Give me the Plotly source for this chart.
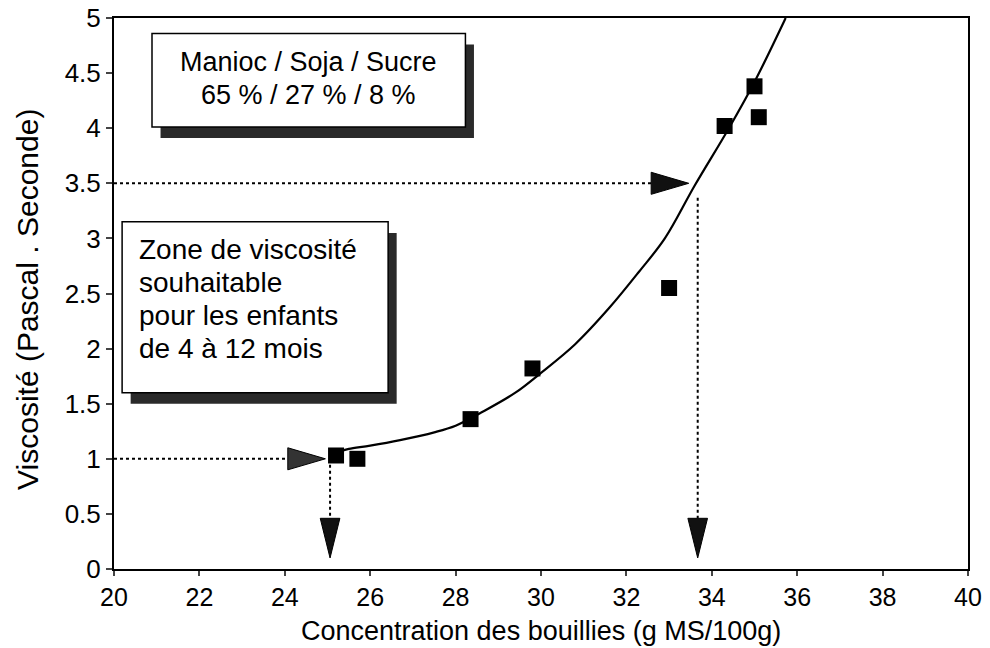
import plotly.graph_objects as go

# Measured points
conc_points = [25.2, 25.7, 28.35, 29.8, 33.0, 34.3, 35.0, 35.1]
visc_points = [1.03, 1.0, 1.36, 1.82, 2.55, 4.02, 4.38, 4.1]

# Fitted curve
conc_curve = [25.3, 25.5, 26.0, 26.7, 27.5, 28.0, 28.6, 29.4, 30.0, 30.8, 31.6, 32.3, 32.9, 33.6, 34.4, 35.0, 35.73]
visc_curve = [1.07, 1.09, 1.12, 1.17, 1.24, 1.30, 1.42, 1.60, 1.78, 2.04, 2.37, 2.70, 3.0, 3.48, 4.0, 4.42, 5.0]

# Target zone reading arrows
target_visc = [1.0, 3.5]
target_conc = [25.06, 33.67]
horiz_tip = [24.95, 33.46]

x_ticks = [20, 22, 24, 26, 28, 30, 32, 34, 36, 38, 40]
y_ticks = [0, 0.5, 1, 1.5, 2, 2.5, 3, 3.5, 4, 4.5, 5]
y_tick_text = ["0", "0.5", "1", "1.5", "2", "2.5", "3", "3.5", "4", "4.5", "5"]

box1_lines = ["Manioc / Soja / Sucre", "65 % / 27 % / 8 %"]
box2_lines = ["Zone de viscosité", "souhaitable", "pour les enfants", "de 4 à 12 mois"]

FONT = "Liberation Sans, Arial, Helvetica, sans-serif"

fig = go.Figure()
fig.add_trace(go.Scatter(x=conc_curve, y=visc_curve, mode="lines",
                         line=dict(color="black", width=2.2, shape="spline"),
                         showlegend=False, hoverinfo="skip"))
fig.add_trace(go.Scatter(x=conc_points, y=visc_points, mode="markers",
                         marker=dict(symbol="square", size=16, color="black"),
                         showlegend=False))

shapes = []
h_len = 0.88
h_half = 0.10
v_len = 0.36
v_half = 0.23
v_tip = 0.10
for i, (yv, xv, xt) in enumerate(zip(target_visc, target_conc, horiz_tip)):
    base = xt - h_len
    shapes.append(dict(type="line", x0=20, x1=base, y0=yv, y1=yv,
                       line=dict(color="black", width=2, dash="dot")))
    shapes.append(dict(type="path",
                       path=f"M {base},{yv - h_half} L {xt},{yv} L {base},{yv + h_half} Z",
                       fillcolor="#111" if i else "#333", line=dict(color="black", width=1)))
    ystart = yv if i == 0 else yv - 0.13
    shapes.append(dict(type="line", x0=xv, x1=xv, y0=ystart, y1=v_tip + v_len,
                       line=dict(color="black", width=2, dash="dot")))
    shapes.append(dict(type="path",
                       path=f"M {xv - v_half},{v_tip + v_len} L {xv},{v_tip} L {xv + v_half},{v_tip + v_len} Z",
                       fillcolor="#111", line=dict(color="black", width=1)))

boxes = [
    dict(x0=20.89, x1=28.23, y0=4.01, y1=4.86),
    dict(x0=20.19, x1=26.42, y0=1.60, y1=3.15),
]
for b in boxes:
    dx, dy = 0.2, 0.1
    shapes.append(dict(type="rect", x0=b["x0"] + dx, x1=b["x1"] + dx,
                       y0=b["y0"] - dy, y1=b["y1"] - dy,
                       fillcolor="#2a2a2a", line=dict(width=0), layer="above"))
    shapes.append(dict(type="rect", x0=b["x0"], x1=b["x1"], y0=b["y0"], y1=b["y1"],
                       fillcolor="white", line=dict(color="black", width=1.5), layer="above"))

annotations = []
for k, line in enumerate(box1_lines):
    annotations.append(dict(x=(boxes[0]["x0"] + boxes[0]["x1"]) / 2, y=4.60 - 0.30 * k,
                            text=line, showarrow=False, yanchor="middle",
                            font=dict(family=FONT, size=27, color="black")))
for k, line in enumerate(box2_lines):
    annotations.append(dict(x=boxes[1]["x0"] + 0.35, y=2.90 - 0.30 * k, xanchor="left",
                            yanchor="middle", text=line, showarrow=False,
                            font=dict(family=FONT, size=28, color="black")))
annotations += [
    dict(xref="paper", yref="paper", x=0.5, y=-0.113, yanchor="middle",
         text="Concentration des bouillies (g MS/100g)", showarrow=False,
         font=dict(family=FONT, size=27, color="black")),
    dict(xref="paper", yref="paper", x=-0.102, y=0.49, xanchor="center", yanchor="middle",
         textangle=-90, text="Viscosité (Pascal . Seconde)", showarrow=False,
         font=dict(family=FONT, size=30, color="black")),
]

fig.update_layout(
    width=990, height=648,
    margin=dict(l=114, r=22, t=18, b=79),
    paper_bgcolor="white", plot_bgcolor="white",
    font=dict(family=FONT, size=26, color="black"),
    shapes=shapes, annotations=annotations,
    xaxis=dict(range=[20, 40], tickvals=x_ticks, ticks="outside", ticklen=5, tickwidth=2,
               showline=True, linecolor="black", linewidth=2, mirror=True,
               showgrid=False, zeroline=False, automargin=False,
               ticklabeloverflow="allow", tickfont=dict(size=25)),
    yaxis=dict(range=[0, 5], tickvals=y_ticks, ticktext=y_tick_text, ticks="outside",
               ticklen=6, tickwidth=2,
               showline=True, linecolor="black", linewidth=2, mirror=True,
               showgrid=False, zeroline=False, automargin=False,
               ticklabeloverflow="allow", tickfont=dict(size=26)),
)

fig.write_html("out.html", config={"displayModeBar": False},
               post_script="document.body.style.margin='0';document.body.style.padding='0';")
